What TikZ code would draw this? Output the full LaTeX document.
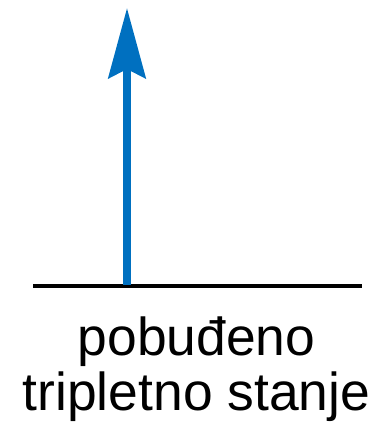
\documentclass[tikz,border=0pt]{standalone}
\usepackage{fontspec}
\setmainfont{Liberation Sans}
\usepackage{tikz}
\usetikzlibrary{arrows.meta}
\definecolor{excblue}{RGB}{0,112,192}

\begin{document}
\begin{tikzpicture}[>=Stealth,font=\fontsize{15.2}{15.6}\selectfont]
\useasboundingbox (0,0) rectangle (3.79,-4.27);
% energy level
\coordinate (lvlL) at (0.33,-2.86);
\coordinate (lvlR) at (3.62,-2.86);
\draw[line width=1.1pt] (lvlL) -- (lvlR);
% excitation arrow
\coordinate (arrBase) at (1.27,-2.845);
\coordinate (arrTip) at (1.27,-0.08);
\draw[excblue,line width=2.3pt,-{Stealth[length=0.7cm,width=0.37cm,inset=0.09cm]}] (arrBase) -- (arrTip);
% label
\node[align=center,anchor=base,inner sep=0pt] (lbl) at (1.965,-4.10) {pobuđeno\\tripletno stanje};
\end{tikzpicture}
\end{document}
